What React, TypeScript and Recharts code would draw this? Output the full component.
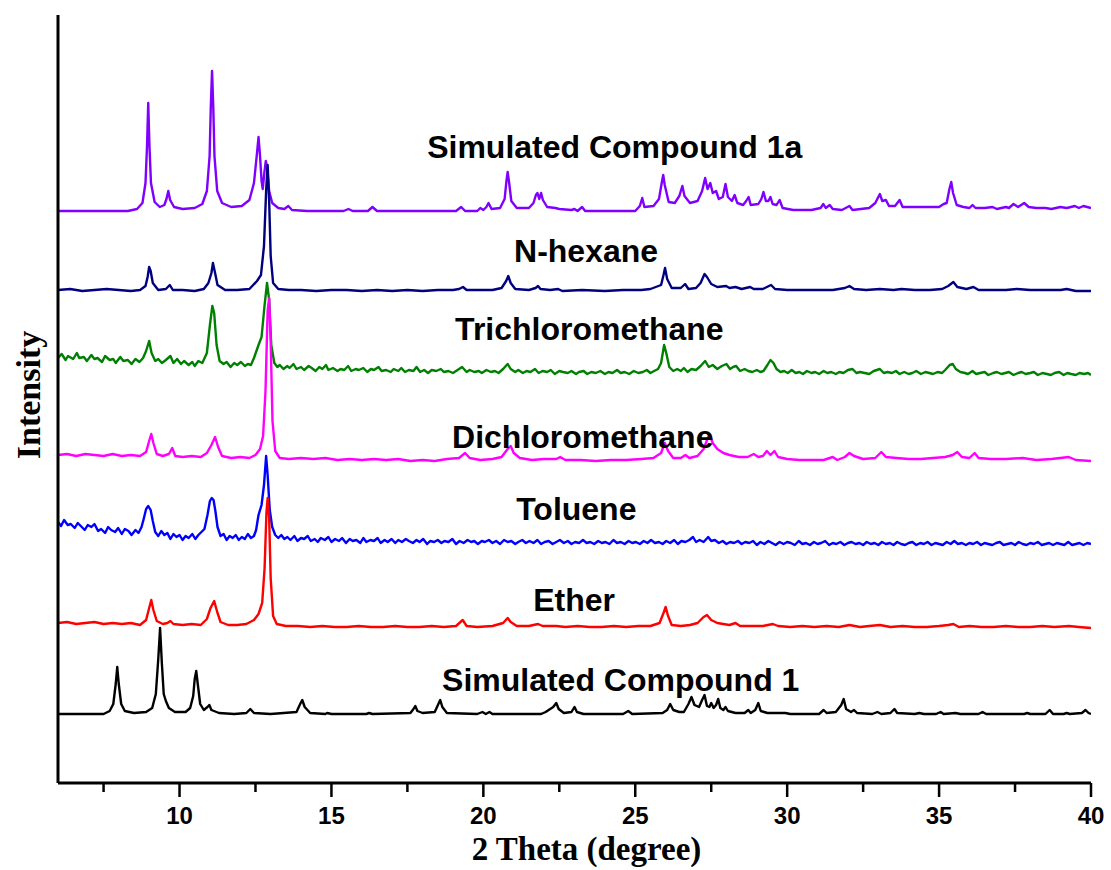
import { Line, LineChart, ReferenceDot, XAxis, YAxis } from "recharts";

// 2θ positions and intensities (a.u., above each trace's own baseline)
const SIM_1A: [number, number][] = [
  [6, 0], [8.3, 0], [8.6, 2], [8.78, 8], [8.88, 28], [8.93, 65], [8.97, 108], [9.01, 65], [9.06, 28], [9.18, 9],
  [9.35, 4], [9.5, 6], [9.57, 12], [9.63, 20], [9.69, 11], [9.82, 4], [10.1, 2], [10.5, 3], [10.75, 7], [10.9, 20],
  [10.99, 55], [11.03, 105], [11.07, 140], [11.11, 105], [11.15, 55], [11.24, 20], [11.4, 8], [11.7, 4], [12.05, 5],
  [12.3, 11], [12.45, 28], [12.54, 55], [12.6, 74], [12.65, 55], [12.7, 30], [12.74, 22], [12.79, 38], [12.84, 50],
  [12.89, 42], [12.95, 20], [13.05, 8], [13.25, 3], [13.45, 2], [13.58, 5], [13.7, 1], [14.2, 0], [15.4, 0],
  [15.56, 2], [15.7, 0], [16.2, 0], [16.35, 4], [16.5, 0], [19.1, 0], [19.27, 4], [19.4, 0], [19.8, 0], [19.9, 3],
  [20.0, 1], [20.1, 4], [20.17, 8], [20.27, 2], [20.55, 3], [20.7, 12], [20.76, 30], [20.8, 39], [20.85, 28],
  [20.92, 10], [21.1, 3], [21.5, 3], [21.65, 8], [21.73, 16], [21.78, 18], [21.84, 12], [21.9, 18], [21.96, 11],
  [22.1, 4], [22.37, 3], [22.5, 2], [22.9, 1], [23.0, 2], [23.1, 0], [23.25, 4], [23.35, 0], [25.0, 0], [25.15, 5],
  [25.23, 13], [25.3, 4], [25.6, 5], [25.78, 12], [25.87, 28], [25.92, 36], [25.97, 26], [26.1, 9], [26.3, 8],
  [26.45, 15], [26.55, 25], [26.62, 15], [26.8, 8], [27.05, 10], [27.2, 20], [27.3, 33], [27.38, 22], [27.47, 28],
  [27.55, 18], [27.66, 20], [27.75, 12], [27.88, 14], [27.97, 27], [28.05, 14], [28.18, 10], [28.27, 16], [28.36, 8],
  [28.55, 6], [28.65, 10], [28.73, 14], [28.8, 6], [29.05, 7], [29.15, 12], [29.22, 19], [29.3, 10], [29.38, 10],
  [29.45, 14], [29.52, 7], [29.65, 6], [29.75, 11], [29.85, 3], [30.2, 1], [30.8, 1], [31.1, 3], [31.19, 7],
  [31.27, 3], [31.4, 6], [31.5, 2], [31.8, 1], [32.05, 5], [32.15, 1], [32.7, 3], [32.9, 8], [33.05, 17],
  [33.13, 10], [33.25, 11], [33.35, 5], [33.55, 5], [33.7, 11], [33.8, 4], [34.2, 4], [34.5, 4], [34.8, 4],
  [35.0, 4], [35.15, 7], [35.25, 8], [35.34, 22], [35.4, 29], [35.46, 18], [35.58, 6], [35.8, 4], [36.0, 3],
  [36.1, 6], [36.2, 3], [36.5, 3], [36.76, 4], [36.9, 2], [37.2, 4], [37.3, 3], [37.45, 7], [37.6, 4], [37.8, 8],
  [37.95, 4], [38.2, 3], [38.5, 3], [38.7, 2], [38.99, 4], [39.2, 3], [39.47, 5], [39.6, 3], [39.75, 5], [40, 3],
];

const N_HEXANE: [number, number][] = [
  [6, 1], [6.4, 2], [6.8, 0], [7.2, 1], [7.6, 2], [8.0, 1], [8.4, 0], [8.7, 1], [8.88, 5], [8.95, 14], [9.0, 24],
  [9.05, 20], [9.12, 8], [9.3, 1], [9.55, 2], [9.68, 6], [9.78, 1], [10.1, 1], [10.5, 0], [10.8, 2], [10.95, 8],
  [11.05, 18], [11.1, 28], [11.17, 18], [11.25, 6], [11.5, 1], [11.9, 1], [12.3, 2], [12.55, 10], [12.68, 16],
  [12.78, 45], [12.85, 100], [12.9, 126], [12.95, 90], [13.0, 35], [13.08, 8], [13.25, 2], [13.6, 1], [14.0, 1],
  [14.5, 0], [15.0, 1], [15.5, 1], [16.0, 0], [16.5, 1], [17.0, 0], [17.5, 1], [18.0, 0], [18.5, 1], [19.0, 1],
  [19.2, 2], [19.33, 4], [19.45, 1], [19.9, 1], [20.3, 1], [20.6, 3], [20.75, 10], [20.82, 15], [20.9, 8],
  [21.05, 2], [21.5, 1], [21.72, 3], [21.8, 5], [21.88, 2], [22.2, 1], [22.46, 2], [22.6, 0], [23.25, 1], [24.0, 0],
  [24.6, 1], [25.2, 1], [25.5, 2], [25.85, 6], [25.93, 16], [25.98, 23], [26.05, 12], [26.2, 3], [26.5, 3],
  [26.64, 7], [26.75, 2], [27.0, 3], [27.15, 8], [27.28, 17], [27.36, 14], [27.5, 7], [27.7, 4], [27.99, 5],
  [28.1, 3], [28.3, 4], [28.5, 2], [28.78, 4], [28.9, 2], [29.2, 2], [29.4, 5], [29.47, 6], [29.6, 2], [30.0, 1],
  [30.5, 1], [31.0, 1], [31.5, 1], [31.9, 3], [32.05, 5], [32.2, 2], [32.6, 1], [33.05, 2], [33.5, 1], [33.76, 2],
  [34.2, 1], [34.7, 1], [35.1, 2], [35.3, 5], [35.47, 9], [35.6, 4], [35.9, 2], [36.13, 4], [36.3, 1], [36.8, 1],
  [37.2, 1], [37.56, 2], [38.0, 1], [38.5, 1], [39.0, 1], [39.2, 2], [39.5, 0], [40, 0],
];

const TRICHLOROMETHANE: [number, number][] = [
  [6.0, 17], [6.12, 21], [6.25, 15], [6.33, 19], [6.5, 16], [6.62, 22], [6.7, 17], [6.85, 18], [6.95, 14], [7.1, 20],
  [7.2, 16], [7.3, 17], [7.45, 13], [7.55, 19], [7.7, 15], [7.82, 16], [7.9, 12], [8.05, 18], [8.15, 14], [8.3, 15],
  [8.42, 11], [8.55, 16], [8.68, 13], [8.8, 17], [8.9, 24], [9.0, 34], [9.08, 22], [9.2, 14], [9.3, 16], [9.42, 12],
  [9.55, 15], [9.7, 19], [9.8, 12], [9.92, 16], [10.05, 11], [10.15, 14], [10.3, 10], [10.42, 13], [10.5, 9],
  [10.62, 14], [10.75, 12], [10.9, 22], [11.0, 50], [11.08, 69], [11.14, 62], [11.22, 30], [11.32, 14], [11.45, 11],
  [11.55, 13], [11.68, 8], [11.8, 12], [11.9, 10], [12.02, 13], [12.15, 9], [12.25, 11], [12.35, 10], [12.45, 17],
  [12.6, 30], [12.7, 38], [12.8, 70], [12.88, 92], [12.95, 75], [13.02, 30], [13.12, 12], [13.22, 8], [13.3, 10],
  [13.42, 6], [13.55, 9], [13.62, 7], [13.75, 11], [13.85, 6], [14.0, 8], [14.1, 5], [14.25, 9], [14.35, 7],
  [14.48, 4], [14.6, 8], [14.7, 6], [14.82, 10], [14.9, 5], [15.05, 7], [15.2, 4], [15.3, 6], [15.42, 5], [15.55, 9],
  [15.65, 4], [15.8, 6], [15.9, 5], [16.05, 7], [16.18, 3], [16.3, 6], [16.4, 5], [16.55, 8], [16.65, 4], [16.8, 5],
  [16.95, 3], [17.05, 6], [17.2, 4], [17.3, 7], [17.42, 3], [17.55, 5], [17.7, 4], [17.8, 8], [17.92, 3], [18.05, 5],
  [18.18, 2], [18.3, 5], [18.45, 4], [18.6, 6], [18.7, 3], [18.85, 4], [19.0, 2], [19.15, 5], [19.3, 8], [19.45, 3],
  [19.55, 5], [19.7, 3], [19.85, 4], [19.95, 2], [20.1, 5], [20.25, 3], [20.38, 4], [20.5, 2], [20.65, 6], [20.8, 11],
  [20.9, 6], [21.05, 3], [21.15, 5], [21.3, 2], [21.42, 4], [21.55, 3], [21.7, 6], [21.82, 2], [21.95, 4], [22.1, 3],
  [22.22, 5], [22.35, 1], [22.5, 4], [22.62, 3], [22.78, 2], [22.9, 4], [23.05, 1], [23.15, 3], [23.3, 4], [23.42, 1],
  [23.55, 3], [23.7, 2], [23.85, 4], [24.0, 1], [24.12, 3], [24.25, 2], [24.4, 5], [24.52, 2], [24.65, 3], [24.8, 1],
  [24.95, 4], [25.1, 2], [25.25, 3], [25.38, 5], [25.5, 2], [25.62, 4], [25.75, 6], [25.85, 12], [25.95, 30],
  [26.02, 22], [26.12, 8], [26.25, 4], [26.38, 6], [26.5, 4], [26.6, 7], [26.72, 3], [26.85, 6], [27.0, 5],
  [27.15, 9], [27.3, 14], [27.42, 8], [27.55, 10], [27.7, 6], [27.85, 9], [28.0, 11], [28.12, 6], [28.22, 8],
  [28.32, 9], [28.45, 4], [28.6, 6], [28.72, 4], [28.85, 3], [29.0, 5], [29.12, 3], [29.22, 4], [29.35, 10],
  [29.45, 15], [29.55, 12], [29.65, 6], [29.78, 3], [29.9, 4], [30.02, 2], [30.15, 5], [30.28, 2], [30.4, 3],
  [30.52, 1], [30.65, 4], [30.8, 2], [30.92, 3], [31.05, 1], [31.2, 4], [31.32, 2], [31.45, 3], [31.6, 1], [31.72, 3],
  [31.85, 2], [32.0, 5], [32.15, 6], [32.28, 2], [32.4, 3], [32.55, 2], [32.7, 1], [32.85, 4], [33.05, 6], [33.18, 2],
  [33.3, 3], [33.45, 2], [33.58, 4], [33.7, 1], [33.85, 3], [34.0, 1], [34.12, 2], [34.25, 4], [34.4, 1], [34.55, 3],
  [34.68, 2], [34.8, 1], [34.95, 3], [35.1, 2], [35.2, 5], [35.35, 10], [35.45, 11], [35.55, 6], [35.7, 3],
  [35.85, 2], [35.95, 1], [36.1, 4], [36.22, 1], [36.35, 2], [36.5, 3], [36.62, 0], [36.78, 2], [36.9, 3], [37.05, 1],
  [37.18, 2], [37.3, 3], [37.45, 0], [37.6, 2], [37.72, 3], [37.85, 1], [38.0, 2], [38.12, 3], [38.25, 0], [38.4, 2],
  [38.55, 1], [38.68, 0], [38.8, 2], [38.95, 3], [39.1, 0], [39.22, 2], [39.35, 1], [39.5, 0], [39.62, 2], [39.78, 1],
  [39.9, 2], [40.0, 0],
];

const DICHLOROMETHANE: [number, number][] = [
  [6, 6], [6.3, 7], [6.6, 5], [6.9, 7], [7.2, 6], [7.5, 5], [7.8, 7], [8.1, 5], [8.4, 6], [8.7, 5], [8.9, 9],
  [9.0, 20], [9.07, 27], [9.14, 18], [9.25, 7], [9.45, 5], [9.65, 7], [9.76, 13], [9.86, 5], [10.1, 4], [10.4, 5],
  [10.7, 4], [10.9, 8], [11.05, 16], [11.17, 24], [11.27, 14], [11.4, 5], [11.7, 3], [12.0, 4], [12.3, 3], [12.5, 6],
  [12.65, 12], [12.75, 25], [12.83, 70], [12.9, 150], [12.95, 163], [13.0, 120], [13.06, 40], [13.15, 10], [13.3, 3],
  [13.6, 2], [14.0, 3], [14.4, 2], [14.8, 3], [15.2, 1], [15.6, 2], [16.0, 1], [16.4, 2], [16.8, 1], [17.2, 2],
  [17.6, 0], [18.0, 1], [18.4, 0], [18.8, 2], [19.2, 3], [19.4, 8], [19.55, 3], [19.9, 1], [20.3, 2], [20.6, 4],
  [20.8, 12], [20.9, 15], [21.0, 8], [21.2, 3], [21.6, 1], [22.0, 2], [22.4, 2], [22.53, 4], [22.7, 1], [23.2, 1],
  [23.7, 0], [24.2, 1], [24.7, 1], [25.2, 2], [25.6, 3], [25.85, 8], [25.97, 18], [26.08, 10], [26.25, 3], [26.5, 3],
  [26.65, 6], [26.78, 3], [27.05, 5], [27.25, 12], [27.4, 24], [27.45, 26], [27.55, 18], [27.7, 12], [27.9, 8],
  [28.1, 6], [28.4, 4], [28.7, 4], [28.9, 7], [29.05, 4], [29.2, 5], [29.33, 10], [29.45, 6], [29.58, 10], [29.7, 4],
  [30.0, 2], [30.4, 1], [30.8, 1], [31.2, 1], [31.5, 4], [31.65, 1], [31.9, 4], [32.05, 8], [32.2, 5], [32.5, 2],
  [32.9, 3], [33.1, 9], [33.25, 4], [33.6, 3], [34.0, 2], [34.4, 2], [34.8, 3], [35.2, 4], [35.45, 6], [35.6, 9],
  [35.75, 4], [36.0, 3], [36.17, 8], [36.3, 3], [36.7, 2], [37.2, 2], [37.75, 3], [38.2, 1], [38.7, 2], [39.27, 4],
  [39.5, 1], [40, 0],
];

const TOLUENE: [number, number][] = [
  [6.0, 23], [6.1, 19], [6.2, 25], [6.32, 20], [6.42, 21], [6.55, 17], [6.65, 22], [6.75, 19], [6.88, 15], [6.98, 20],
  [7.1, 18], [7.2, 21], [7.32, 14], [7.42, 16], [7.55, 12], [7.65, 18], [7.75, 15], [7.88, 13], [7.98, 17], [8.1, 11],
  [8.2, 16], [8.32, 14], [8.42, 10], [8.55, 15], [8.65, 12], [8.75, 18], [8.82, 26], [8.9, 36], [8.97, 39], [9.05, 35],
  [9.12, 24], [9.2, 13], [9.3, 9], [9.4, 14], [9.5, 10], [9.6, 12], [9.7, 6], [9.8, 11], [9.9, 8], [10.0, 10],
  [10.1, 5], [10.2, 9], [10.3, 7], [10.42, 11], [10.52, 6], [10.62, 10], [10.72, 13], [10.82, 16], [10.92, 30],
  [11.0, 44], [11.06, 47], [11.12, 45], [11.18, 34], [11.25, 18], [11.35, 9], [11.45, 11], [11.55, 5], [11.65, 9],
  [11.75, 7], [11.85, 10], [11.95, 5], [12.05, 8], [12.15, 6], [12.25, 11], [12.35, 7], [12.45, 9], [12.52, 15],
  [12.6, 30], [12.7, 40], [12.78, 60], [12.85, 89], [12.9, 70], [12.97, 35], [13.05, 18], [13.15, 10], [13.25, 7],
  [13.35, 10], [13.45, 6], [13.55, 8], [13.65, 5], [13.78, 9], [13.88, 4], [14.0, 7], [14.1, 6], [14.22, 9],
  [14.32, 4], [14.45, 6], [14.55, 3], [14.65, 7], [14.78, 5], [14.9, 8], [15.0, 3], [15.12, 6], [15.25, 4], [15.35, 7],
  [15.48, 2], [15.6, 6], [15.7, 4], [15.82, 5], [15.95, 2], [16.05, 7], [16.15, 3], [16.28, 5], [16.4, 4], [16.52, 7],
  [16.62, 2], [16.75, 5], [16.85, 3], [16.98, 6], [17.1, 2], [17.2, 5], [17.32, 3], [17.45, 6], [17.55, 4], [17.68, 2],
  [17.8, 5], [17.9, 3], [18.02, 6], [18.15, 1], [18.25, 4], [18.38, 3], [18.5, 5], [18.62, 2], [18.72, 4], [18.85, 3],
  [18.98, 6], [19.1, 1], [19.22, 4], [19.35, 2], [19.48, 5], [19.6, 3], [19.7, 4], [19.82, 1], [19.95, 4], [20.05, 3],
  [20.18, 5], [20.3, 2], [20.42, 4], [20.55, 1], [20.68, 5], [20.8, 3], [20.92, 4], [21.05, 1], [21.15, 3], [21.28, 5],
  [21.4, 2], [21.52, 4], [21.65, 2], [21.78, 5], [21.9, 1], [22.02, 3], [22.15, 4], [22.28, 1], [22.4, 3], [22.52, 5],
  [22.65, 2], [22.78, 4], [22.9, 1], [23.02, 3], [23.15, 2], [23.28, 5], [23.4, 2], [23.52, 3], [23.65, 1], [23.78, 4],
  [23.9, 2], [24.02, 3], [24.15, 1], [24.28, 5], [24.4, 2], [24.52, 3], [24.65, 1], [24.78, 4], [24.9, 2], [25.02, 3],
  [25.15, 1], [25.28, 4], [25.4, 2], [25.52, 5], [25.65, 2], [25.78, 3], [25.9, 1], [26.02, 4], [26.15, 2], [26.28, 5],
  [26.4, 1], [26.52, 4], [26.65, 3], [26.78, 5], [26.9, 8], [27.0, 3], [27.12, 5], [27.25, 3], [27.4, 8], [27.5, 4],
  [27.62, 5], [27.75, 2], [27.88, 4], [28.0, 1], [28.12, 3], [28.25, 2], [28.38, 4], [28.5, 1], [28.62, 3], [28.75, 2],
  [28.88, 4], [29.0, 0], [29.12, 3], [29.25, 1], [29.38, 4], [29.5, 2], [29.62, 0], [29.75, 3], [29.88, 1], [30.0, 3],
  [30.12, 2], [30.25, 0], [30.38, 4], [30.5, 1], [30.62, 2], [30.75, 0], [30.88, 3], [31.0, 1], [31.12, 2], [31.25, 4],
  [31.38, 0], [31.5, 2], [31.62, 1], [31.75, 3], [31.88, 0], [32.0, 2], [32.12, 3], [32.25, 1], [32.38, 2], [32.5, 0],
  [32.62, 3], [32.75, 1], [32.88, 2], [33.0, 0], [33.12, 3], [33.25, 1], [33.38, 2], [33.5, 0], [33.62, 3], [33.75, 1],
  [33.88, 0], [34.0, 2], [34.12, 3], [34.25, 0], [34.38, 2], [34.5, 1], [34.62, 3], [34.75, 0], [34.88, 2], [35.0, 1],
  [35.12, 0], [35.25, 3], [35.38, 1], [35.5, 4], [35.62, 1], [35.75, 2], [35.88, 0], [36.0, 2], [36.12, 1], [36.25, 3],
  [36.38, 0], [36.5, 2], [36.62, 1], [36.75, 0], [36.88, 2], [37.0, 3], [37.12, 0], [37.25, 1], [37.38, 2], [37.5, 0],
  [37.62, 3], [37.75, 1], [37.88, 0], [38.0, 2], [38.12, 1], [38.25, 3], [38.38, 0], [38.5, 1], [38.62, 2], [38.75, 0],
  [38.88, 2], [39.0, 1], [39.12, 0], [39.25, 3], [39.38, 0], [39.5, 1], [39.62, 2], [39.75, 0], [39.88, 2], [40, 1],
];

const ETHER: [number, number][] = [
  [6, 5], [6.3, 6], [6.6, 4], [6.9, 5], [7.2, 6], [7.5, 4], [7.8, 5], [8.1, 4], [8.4, 5], [8.7, 3], [8.9, 8],
  [9.0, 20], [9.07, 28], [9.14, 18], [9.25, 7], [9.45, 4], [9.6, 5], [9.7, 7], [9.8, 4], [10.1, 3], [10.4, 4],
  [10.7, 3], [10.9, 9], [11.02, 20], [11.14, 27], [11.24, 16], [11.35, 6], [11.6, 3], [11.9, 3], [12.2, 4],
  [12.45, 8], [12.6, 14], [12.72, 25], [12.8, 60], [12.86, 115], [12.9, 130], [12.95, 110], [13.0, 50], [13.08, 12],
  [13.2, 4], [13.5, 2], [13.9, 2], [14.3, 1], [14.7, 2], [15.1, 1], [15.5, 1], [15.9, 2], [16.3, 1], [16.7, 1],
  [17.1, 2], [17.5, 1], [17.9, 1], [18.3, 2], [18.7, 1], [19.1, 2], [19.32, 8], [19.45, 2], [19.8, 1], [20.3, 2],
  [20.65, 5], [20.8, 10], [20.9, 6], [21.1, 2], [21.5, 2], [21.8, 4], [21.95, 2], [22.4, 2], [22.7, 1], [23.1, 2],
  [23.5, 1], [23.9, 1], [24.3, 2], [24.7, 1], [25.1, 2], [25.5, 2], [25.8, 5], [25.93, 15], [26.0, 21], [26.08, 12],
  [26.2, 3], [26.5, 2], [26.8, 3], [27.05, 5], [27.25, 11], [27.36, 13], [27.5, 8], [27.7, 5], [27.9, 4], [28.1, 3],
  [28.3, 5], [28.45, 2], [28.8, 2], [29.2, 2], [29.53, 4], [29.7, 2], [30.1, 1], [30.5, 2], [30.9, 1], [31.3, 2],
  [31.7, 1], [32.05, 3], [32.4, 1], [32.7, 2], [33.05, 3], [33.4, 1], [33.8, 2], [34.2, 1], [34.6, 1], [35.0, 2],
  [35.3, 3], [35.47, 4], [35.65, 1], [36.0, 2], [36.4, 1], [36.8, 1], [37.2, 2], [37.6, 1], [38.0, 1], [38.4, 2],
  [38.8, 1], [39.27, 2], [39.6, 1], [40, 0],
];

const SIM_1: [number, number][] = [
  [6, 0], [7.5, 0], [7.7, 3], [7.82, 10], [7.9, 30], [7.95, 47], [8.0, 30], [8.08, 10], [8.2, 3], [8.5, 1], [8.9, 2],
  [9.1, 6], [9.22, 20], [9.3, 55], [9.36, 86], [9.42, 50], [9.48, 20], [9.55, 13], [9.65, 6], [9.85, 2], [10.2, 2],
  [10.35, 6], [10.45, 18], [10.5, 35], [10.55, 43], [10.6, 30], [10.68, 10], [10.8, 4], [10.92, 7], [10.98, 9],
  [11.05, 4], [11.3, 1], [11.8, 0], [12.2, 1], [12.33, 5], [12.45, 1], [13.0, 0], [13.85, 2], [13.97, 10], [14.04, 14],
  [14.12, 7], [14.3, 1], [14.8, 0], [14.86, 1], [15.0, 0], [16.15, 0], [16.24, 1], [16.35, 0], [17.6, 1], [17.7, 5],
  [17.76, 8], [17.83, 3], [18.0, 1], [18.4, 2], [18.52, 10], [18.58, 14], [18.65, 7], [18.8, 1], [19.8, 0],
  [19.97, 2], [20.08, 0], [20.2, 2], [20.3, 0], [21.9, 0], [22.05, 2], [22.3, 7], [22.4, 11], [22.48, 5], [22.65, 1],
  [22.9, 2], [23.0, 7], [23.08, 2], [23.3, 0], [24.6, 0], [24.77, 3], [24.9, 0], [25.9, 1], [26.05, 4], [26.15, 10],
  [26.25, 4], [26.45, 2], [26.6, 2], [26.75, 10], [26.85, 17], [26.95, 9], [27.1, 7], [27.2, 14], [27.28, 19],
  [27.36, 8], [27.44, 7], [27.5, 11], [27.58, 6], [27.66, 9], [27.73, 15], [27.8, 6], [27.9, 4], [27.97, 7],
  [28.05, 3], [28.3, 1], [28.6, 1], [28.72, 4], [28.8, 1], [28.95, 4], [29.05, 11], [29.13, 3], [29.35, 1],
  [29.94, 1], [30.1, 0], [31.05, 0], [31.2, 4], [31.3, 1], [31.6, 2], [31.78, 9], [31.86, 15], [31.94, 5], [32.1, 2],
  [32.2, 4], [32.3, 1], [32.8, 0], [32.97, 2], [33.1, 0], [33.4, 1], [33.53, 5], [33.62, 1], [34.2, 0], [34.35, 1],
  [34.5, 0], [34.9, 0], [35.05, 2], [35.15, 0], [35.54, 1], [35.7, 0], [36.3, 0], [36.43, 2], [36.55, 0], [37.8, 0],
  [37.9, 1], [38.0, 0], [38.5, 0], [38.64, 4], [38.75, 0], [39.1, 0], [39.2, 1], [39.3, 0], [39.7, 1], [39.82, 4],
  [39.92, 1], [40, 0],
];

// stacking offsets, same a.u. as the intensities
const SERIES_NAMES = ["Simulated Compound 1a", "N-hexane", "Trichloromethane", "Dichloromethane", "Toluene", "Ether", "Simulated Compound 1"];
const SERIES_DATA = [SIM_1A, N_HEXANE, TRICHLOROMETHANE, DICHLOROMETHANE, TOLUENE, ETHER, SIM_1];
const OFFSETS = [572, 492, 408, 322, 238, 155, 69];
const COLORS = ["#8000FF", "#000080", "#008000", "#FF00FF", "#0000FF", "#FF0000", "#000000"];

// label anchors: [2θ, intensity] of each label's left baseline
const LABEL_AT: [number, number][] = [
  [18.15, 625],
  [21.01, 521],
  [19.07, 443],
  [18.97, 335],
  [21.08, 263],
  [21.64, 172],
  [18.64, 92],
];

const X_TICKS = [7.5, 10, 12.5, 15, 17.5, 20, 22.5, 25, 27.5, 30, 32.5, 35, 37.5, 40];

const SANS = "'Liberation Sans', Arial, sans-serif";
const SERIF = "'Liberation Serif', 'Times New Roman', serif";

function XTick({ x = 0, y = 0, payload }: { x?: number; y?: number; payload?: { value: number } }) {
  const v = payload?.value ?? 0;
  const major = v % 5 === 0;
  return (
    <g>
      <line x1={x} x2={x} y1={y} y2={y + (major ? 14 : 9)} stroke="#000" strokeWidth={2.5} />
      {major && (
        <text x={x} y={y + 41} textAnchor="middle" fontFamily={SANS} fontWeight="bold" fontSize={24} fill="#000">
          {v}
        </text>
      )}
    </g>
  );
}

function XTitle({ viewBox }: { viewBox?: { x: number; y: number; width: number } }) {
  if (!viewBox) return null;
  return (
    <text x={viewBox.x + viewBox.width / 2 + 12} y={viewBox.y + 77} textAnchor="middle" fontFamily={SERIF} fontWeight="bold" fontSize={33} fill="#000">
      2 Theta (degree)
    </text>
  );
}

function YTitle() {
  return (
    <text x={0} y={0} transform="translate(40 395) rotate(-90)" textAnchor="middle" fontFamily={SERIF} fontWeight="bold" fontSize={34} fill="#000">
      Intensity
    </text>
  );
}

export default function App() {
  const lines = SERIES_DATA.map((series, i) => series.map(([x, y]) => ({ x, y: y + OFFSETS[i] })));

  return (
    <div style={{ position: "absolute", left: 0, top: 0, width: 1111, height: 870, background: "#fff" }}>
      <LineChart width={1111} height={870} margin={{ top: 15, right: 20, bottom: 27, left: 0 }}>
        <XAxis
          type="number"
          dataKey="x"
          domain={[6, 40]}
          ticks={X_TICKS}
          allowDataOverflow
          axisLine={{ stroke: "#000", strokeWidth: 3 }}
          tickLine={false}
          tickSize={0}
          tickMargin={0}
          height={60}
          tick={<XTick />}
          label={<XTitle />}
        />
        <YAxis
          type="number"
          domain={[0, 768]}
          width={58}
          tick={false}
          tickLine={false}
          axisLine={{ stroke: "#000", strokeWidth: 3 }}
          label={<YTitle />}
        />
        {lines.map((data, i) => (
          <Line
            key={SERIES_NAMES[i]}
            data={data}
            dataKey="y"
            type="linear"
            stroke={COLORS[i]}
            strokeWidth={2.4}
            strokeLinejoin="round"
            dot={false}
            activeDot={false}
            isAnimationActive={false}
          />
        ))}
        {LABEL_AT.map(([x, y], i) => (
          <ReferenceDot
            key={`label-${i}`}
            x={x}
            y={y}
            r={0}
            ifOverflow="visible"
            shape={(p: { cx?: number; cy?: number }) => (
              <text x={p.cx} y={p.cy} fontFamily={SANS} fontWeight="bold" fontSize={32} fill="#000">
                {SERIES_NAMES[i]}
              </text>
            )}
          />
        ))}
      </LineChart>
    </div>
  );
}
